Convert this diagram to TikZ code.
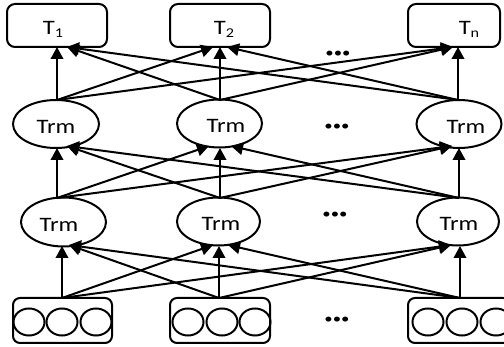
\documentclass[tikz,border=0pt]{standalone}
\usepackage{fontspec}
\setmainfont{Carlito}[FakeStretch=1.2]
\usetikzlibrary{arrows.meta,shapes.geometric}
\newcommand{\mysub}[1]{\raisebox{-2.5pt}{\fontsize{13.5}{13.5}\selectfont #1}}
\begin{document}
\begin{tikzpicture}[x=1pt,y=-1pt,
  tbox/.style={draw, line width=2pt, rounded corners=8pt, minimum height=43pt, inner sep=0pt,
    text height=19pt, text depth=0pt, font=\fontsize{20.5}{21}\selectfont},
  trm/.style={draw, ellipse, line width=2pt, minimum height=48pt, inner sep=0pt,
    text height=18.5pt, text depth=0pt, font=\fontsize{20.5}{21}\selectfont},
  ibox/.style={draw, line width=2pt, rounded corners=7pt, minimum height=45pt, inner sep=0pt},
  unit/.style={draw, ellipse, line width=2pt, minimum width=31pt, minimum height=27pt, inner sep=0pt},
  dots/.style={font=\fontsize{14}{14}\selectfont, inner sep=0pt},
  arr/.style={line width=2pt, -{Triangle[length=12pt,width=12.5pt]}}]
\useasboundingbox (0,0) rectangle (504,347);
\clip (0,0) rectangle (504,347);

% output boxes
\node[tbox, minimum width=100pt] (t1) at (57,25.5) {\hspace*{-8pt}T\mysub{1}};
\node[tbox, minimum width=100pt] (t2) at (220,25.5) {\hspace*{8pt}T\mysub{2}};
\node[tbox, minimum width=92pt] (tn) at (454,25.5) {\hspace*{30pt}T\mysub{n}};
\node[dots] (d1) at (338,54) {•••};

% upper Trm row
\node[trm, minimum width=86pt] (u1) at (56,124) {Trm};
\node[trm, minimum width=85pt] (u2) at (219.5,123.5) {\hspace*{13pt}Trm};
\node[trm, minimum width=85pt] (u3) at (459,124) {\hspace*{14pt}Trm};
\node[dots] (d2) at (337,127) {•••};

% lower Trm row
\node[trm, minimum width=85pt, minimum height=49pt] (l1) at (63.5,222) {\hspace*{-9pt}Trm};
\node[trm, minimum width=83pt] (l2) at (218.5,221.5) {\hspace*{5pt}Trm};
\node[trm, minimum width=82pt] (l3) at (458,221.5) {\hspace*{2pt}Trm};
\node[dots] (d3) at (335,215) {•••};

% input boxes
\node[ibox, minimum width=99pt] (b1) at (62.5,320.5) {};
\node[ibox, minimum width=100pt] (b2) at (220,320.5) {};
\node[ibox, minimum width=102pt] (b3) at (459,320.5) {};
\node[unit] (b1a) at (29,322) {};
\node[unit] (b1b) at (62,322) {};
\node[unit] (b1c) at (96,322) {};
\node[unit] (b2a) at (188,322) {};
\node[unit] (b2b) at (222,322) {};
\node[unit] (b2c) at (255,322) {};
\node[unit] (b3a) at (428,322) {};
\node[unit] (b3b) at (462,322) {};
\node[unit] (b3c) at (496,322) {};
\node[dots] (d4) at (337,320) {•••};

% connector end points
\coordinate (pA1) at (62,298);
\coordinate (pA2) at (219,298);
\coordinate (pA3) at (460,298);
\coordinate (qA1v) at (62,246);
\coordinate (qA1r) at (69,245);
\coordinate (qA2l) at (213,245);
\coordinate (qA2v) at (219,246);
\coordinate (qA2r) at (228,245);
\coordinate (qA3l) at (451,245);
\coordinate (qA3v) at (460,246);

\coordinate (pB1) at (57,198);
\coordinate (pB2) at (220,198);
\coordinate (pB3) at (459,198);
\coordinate (qB1v) at (57,148);
\coordinate (qB1r) at (67,146);
\coordinate (qB2l) at (209,146);
\coordinate (qB2v) at (220,148);
\coordinate (qB2r) at (231,146);
\coordinate (qB3l) at (452,146);
\coordinate (qB3v) at (459,148);

\coordinate (pC1) at (57,100);
\coordinate (pC2) at (220,100);
\coordinate (pC3) at (458,100);
\coordinate (qC1v) at (57,47);
\coordinate (qC1r) at (67,47);
\coordinate (qC2l) at (213,47);
\coordinate (qC2v) at (220,47);
\coordinate (qC2r) at (227,47);
\coordinate (qC3l) at (453,47);
\coordinate (qC3v) at (458,47);

% input -> lower Trm
\draw[arr] (pA1) -- (qA1v);
\draw[arr] (pA1) -- (qA2l);
\draw[arr] (pA1) -- (qA3l);
\draw[arr] (pA2) -- (qA1r);
\draw[arr] (pA2) -- (qA2v);
\draw[arr] (pA2) -- (qA3l);
\draw[arr] (pA3) -- (qA1r);
\draw[arr] (pA3) -- (qA2r);
\draw[arr] (pA3) -- (qA3v);

% lower Trm -> upper Trm
\draw[arr] (pB1) -- (qB1v);
\draw[arr] (pB1) -- (qB2l);
\draw[arr] (pB1) -- (qB3l);
\draw[arr] (pB2) -- (qB1r);
\draw[arr] (pB2) -- (qB2v);
\draw[arr] (pB2) -- (qB3l);
\draw[arr] (pB3) -- (qB1r);
\draw[arr] (pB3) -- (qB2r);
\draw[arr] (pB3) -- (qB3v);

% upper Trm -> outputs
\draw[arr] (pC1) -- (qC1v);
\draw[arr] (pC1) -- (qC2l);
\draw[arr] (pC1) -- (qC3l);
\draw[arr] (pC2) -- (qC1r);
\draw[arr] (pC2) -- (qC2v);
\draw[arr] (pC2) -- (qC3l);
\draw[arr] (pC3) -- (qC1r);
\draw[arr] (pC3) -- (qC2r);
\draw[arr] (pC3) -- (qC3v);
\end{tikzpicture}
\end{document}
